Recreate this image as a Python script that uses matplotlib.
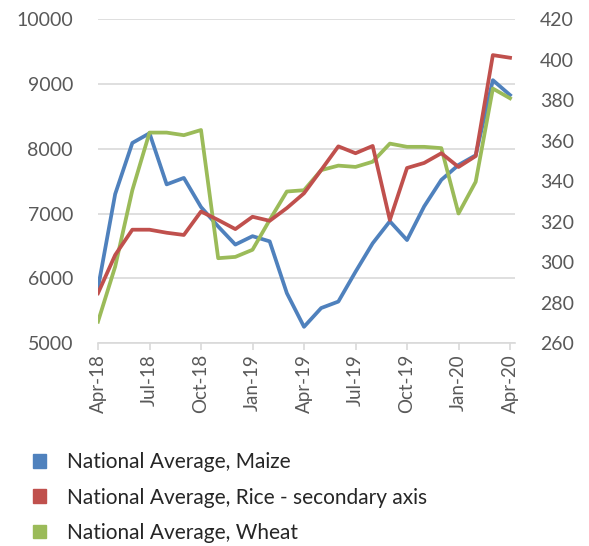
import matplotlib.pyplot as plt
from matplotlib.patches import Patch

# monthly national average prices, Apr-2018 .. Apr-2020
months = ["Apr-18", "May-18", "Jun-18", "Jul-18", "Aug-18", "Sep-18", "Oct-18",
          "Nov-18", "Dec-18", "Jan-19", "Feb-19", "Mar-19", "Apr-19", "May-19",
          "Jun-19", "Jul-19", "Aug-19", "Sep-19", "Oct-19", "Nov-19", "Dec-19",
          "Jan-20", "Feb-20", "Mar-20", "Apr-20"]

maize = [5850, 7300, 8090, 8240, 7450, 7550, 7100, 6800, 6520, 6650, 6570,
         5770, 5250, 5540, 5640, 6100, 6540, 6880, 6590, 7110, 7520, 7750,
         7900, 9060, 8830]

rice = [284.6, 303.5, 316, 316, 314.5, 313.4, 325, 320.8, 316.3, 322.4, 320.4,
        326.7, 334, 345.5, 357.2, 353.8, 357.4, 320.8, 346.5, 349, 353.8,
        347, 352.4, 402.3, 401]

wheat = [5330, 6180, 7360, 8250, 8250, 8210, 8290, 6310, 6330, 6440, 6900,
         7340, 7360, 7670, 7740, 7720, 7800, 8080, 8030, 8030, 8010, 7000,
         7490, 8930, 8780]

left_ticks = [5000, 6000, 7000, 8000, 9000, 10000]
right_ticks = [260, 280, 300, 320, 340, 360, 380, 400, 420]

BLUE = "#4F81BD"
RED = "#C0504D"
GREEN = "#9BBB59"
GRID = "#D9D9D9"
TXT = "#595959"

plt.rcParams["font.family"] = ["Lato", "DejaVu Sans"]

fig = plt.figure(figsize=(5.89, 5.46), dpi=100)
ax = fig.add_axes([98 / 589, 203 / 546, 417 / 589, 323.7 / 546])
ax2 = ax.twinx()

x = list(range(len(months)))
ax.plot(x, maize, color=BLUE, lw=2.7, zorder=3)
ax.plot(x, wheat, color=GREEN, lw=2.7, zorder=3)
ax2.plot(x, rice, color=RED, lw=2.7, zorder=3)

ax.set_xlim(0, 24.29)
ax.set_ylim(5000, 10000)
ax2.set_ylim(260, 420)
ax.set_yticks(left_ticks)
ax2.set_yticks(right_ticks)
ax.yaxis.grid(True, color=GRID, lw=1.2)
ax.set_axisbelow(True)

ax.set_xticks(x[::3])
ax.set_xticklabels(months[::3], rotation=90)

for a in (ax, ax2):
    for s in ("left", "right", "top", "bottom"):
        a.spines[s].set_visible(False)
ax.spines["bottom"].set_visible(True)
ax.spines["bottom"].set_color(GRID)
ax.spines["bottom"].set_linewidth(1.2)

ax.tick_params(axis="x", colors=GRID, length=5, width=1.2, pad=3,
               labelsize=13.5, labelcolor=TXT)
ax.tick_params(axis="y", length=0, pad=18, labelsize=14, labelcolor=TXT)
ax2.tick_params(axis="y", length=0, pad=18, labelsize=14, labelcolor=TXT)

handles = [Patch(color=BLUE, label="National Average, Maize"),
           Patch(color=RED, label="National Average, Rice - secondary axis"),
           Patch(color=GREEN, label="National Average, Wheat")]
fig.legend(handles=handles, loc="upper left", bbox_to_anchor=(0.056, 0.172),
           frameon=False, fontsize=15, handlelength=0.62, handleheight=0.62,
           handletextpad=1.0, labelspacing=0.74, labelcolor="#262626",
           borderaxespad=0, borderpad=0)

fig.savefig("out.png", dpi=100)
